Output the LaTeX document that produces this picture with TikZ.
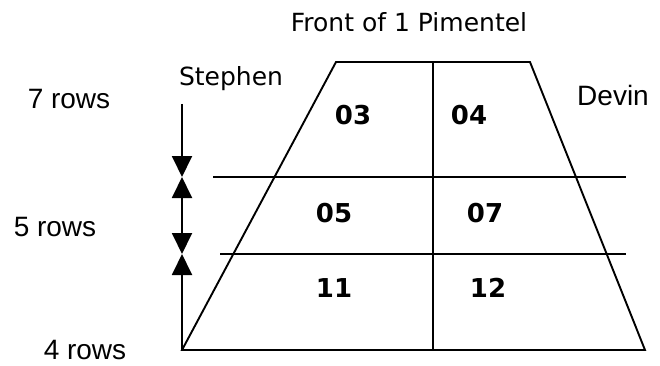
\documentclass[tikz,border=0pt]{standalone}
\usepackage{fontspec}
\setmainfont{DejaVu Sans}
\newfontfamily\rowsfont{Liberation Sans}
\usepackage{tikz}
\usetikzlibrary{positioning,arrows.meta,calc}
\definecolor{roomInk}{HTML}{000000}
\tikzset{
  roomline/.style={draw=roomInk,line width=1.9pt},
  rowarrow/.style={draw=roomInk,line width=1.9pt},
  rowtip/.tip={Triangle[length=21pt,width=20pt]},
  seatnum/.style={inner sep=0pt,text=roomInk,font=\fontsize{26}{28}\selectfont\bfseries},
  namelabel/.style={inner sep=0pt,anchor=base,text=roomInk,font=\fontsize{25}{28}\selectfont},
  rowlabel/.style={inner sep=0pt,anchor=base,text=roomInk,font=\rowsfont\fontsize{28}{30}\selectfont}
}

\begin{document}
\begin{tikzpicture}[x=1pt,y=-1pt]
    \useasboundingbox (0,0) rectangle (660,366);
    % room outline
    \coordinate (tl) at (336,62);
    \coordinate (tr) at (530,62);
    \coordinate (br) at (645,350);
    \coordinate (bl) at (182,350);
    \coordinate (midtop) at (433,62);
    \coordinate (midbot) at (433,350);
    \draw[roomline] (tl) -- (tr) -- (br) -- (bl) -- cycle;
    \draw[roomline] (midtop) -- (midbot);
    % row dividers
    \coordinate (rowAleft) at (213,177);
    \coordinate (rowAright) at (626,177);
    \coordinate (rowBleft) at (220,254);
    \coordinate (rowBright) at (626,254);
    \draw[roomline] (rowAleft) -- (rowAright);
    \draw[roomline,line width=2.4pt] (rowBleft) -- (rowBright);
    % row arrows
    \coordinate (stemtop) at (182,104);
    \coordinate (rowA) at (182,177);
    \coordinate (rowB) at (182,254);
    \draw[rowarrow,-rowtip] (stemtop) -- (rowA);
    \draw[rowarrow,rowtip-rowtip] (rowA) -- (rowB);
    \draw[rowarrow,-rowtip] (bl) -- (rowB);
    % labels
    \node[namelabel] (front) at (409,32) {Front of 1 Pimentel};
    \node[namelabel] (stephen) at (231,86) {Stephen};
    \node[rowlabel] (devin) at (613,106) {Devin};
    \node[rowlabel] (seven) at (69,109) {7 rows};
    \node[rowlabel] (five) at (55,236) {5 rows};
    \node[rowlabel] (four) at (85,359) {4 rows};
    % seats
    \node[seatnum] (s03) at (353,115) {03};
    \node[seatnum] (s04) at (469,115) {04};
    \node[seatnum] (s05) at (334,213) {05};
    \node[seatnum] (s07) at (485,213) {07};
    \node[seatnum] (s11) at (334,288) {11};
    \node[seatnum] (s12) at (488,288) {12};
  \end{tikzpicture}
\end{document}
